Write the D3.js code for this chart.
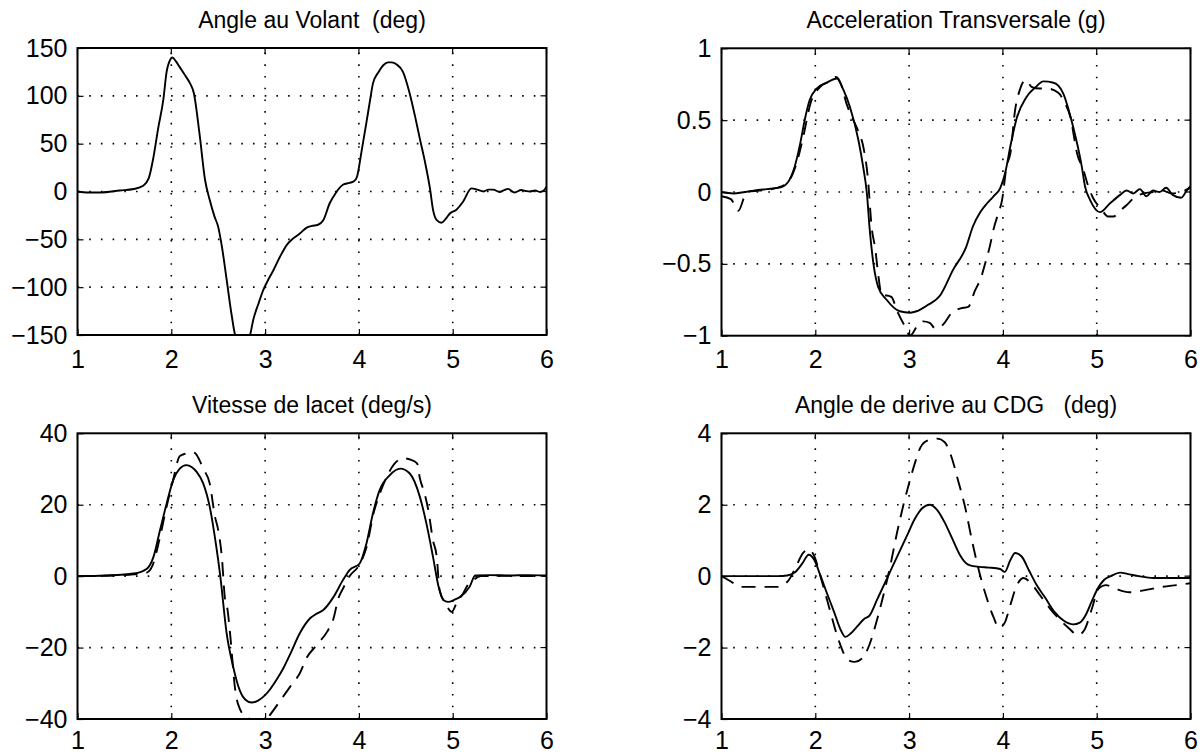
<!DOCTYPE html>
<html><head><meta charset="utf-8">
<script src="https://cdn.jsdelivr.net/npm/d3@7"></script>
<style>
html,body{margin:0;padding:0;background:#fff;}
svg{display:block;font-family:"Liberation Sans",Arial,Helvetica,sans-serif;}
</style></head>
<body><svg id="c" width="1202" height="756"></svg>
<script>
// ---------- DATA ----------
const xTicks = [1, 2, 3, 4, 5, 6];

// Panel 1: Angle au Volant (deg)
const volantTicks = [150, 100, 50, 0, -50, -100, -150];
const volantT = [1.0,1.1,1.25,1.45,1.6,1.7,1.76,1.81,1.86,1.915,1.95,1.99,2.01,2.05,2.09,2.15,2.2,2.24,2.3,2.36,2.41,2.46,2.5,2.54,2.59,2.64,2.68,2.72,2.8,2.84,2.874,2.93,2.98,3.04,3.09,3.16,3.23,3.3,3.37,3.44,3.5,3.56,3.62,3.69,3.75,3.83,3.9,3.95,3.98,4.03,4.08,4.12,4.15,4.21,4.26,4.31,4.35,4.4,4.47,4.54,4.6,4.65,4.7,4.76,4.79,4.83,4.88,4.93,4.97,5.04,5.11,5.2,5.26,5.33,5.38,5.43,5.5,5.55,5.59,5.66,5.73,5.78,5.82,5.88,5.93,5.97,6.0];
const volantV = [0,-1,-1,1,2.6,6,14,36,66,96,125,138,140,136,130,121,113,103,61,12,-9,-26,-37,-58,-92,-127,-150,-158,-160,-150,-134,-117,-103,-91,-82,-68,-56,-49,-44,-38,-36,-35,-30,-12,-2,7,9,11,15.5,43,72,96,113,125,132,135,135,133,125,103,78,55,33,1.6,-19,-30,-32.6,-28,-23,-19,-10.7,3.3,2,0,2,2,-0.5,1.5,2.7,-1,1.5,0.5,0,1,-0.5,1,5];

// Panel 2: Acceleration Transversale (g)
const accTicks = [1, 0.5, 0, -0.5, -1];
const accT = [1.0,1.125,1.25,1.39,1.48,1.62,1.71,1.78,1.84,1.89,1.94,2.015,2.12,2.23,2.3,2.37,2.46,2.51,2.55,2.58,2.62,2.67,2.76,2.9,3.01,3.08,3.19,3.33,3.47,3.61,3.68,3.76,3.83,3.9,3.97,4.03,4.08,4.15,4.25,4.35,4.43,4.54,4.64,4.75,4.84,4.875,4.93,5.035,5.14,5.25,5.32,5.39,5.46,5.53,5.6,5.67,5.74,5.81,5.9,5.96,6.0];
const accV = [0,-0.01,0,0.014,0.02,0.03,0.07,0.176,0.34,0.51,0.64,0.72,0.76,0.79,0.71,0.59,0.36,0.176,-0.01,-0.26,-0.5,-0.66,-0.75,-0.83,-0.84,-0.83,-0.79,-0.72,-0.54,-0.38,-0.24,-0.14,-0.08,-0.03,0.026,0.15,0.32,0.52,0.66,0.73,0.77,0.76,0.69,0.45,0.18,0.04,-0.056,-0.14,-0.08,-0.02,0.01,-0.01,0.02,-0.03,0.01,0,0.03,-0.02,-0.04,0.01,0.04];
const accDashT = [1.0,1.1,1.18,1.27,1.4,1.6,1.72,1.8,1.87,1.95,2.05,2.15,2.22,2.28,2.33,2.37,2.46,2.51,2.56,2.6,2.64,2.67,2.71,2.76,2.81,2.88,2.96,3.01,3.08,3.15,3.22,3.28,3.35,3.47,3.55,3.63,3.7,3.77,3.81,3.86,3.9,3.95,3.99,4.04,4.08,4.13,4.18,4.24,4.31,4.39,4.47,4.59,4.66,4.72,4.79,4.86,4.91,4.96,5.05,5.12,5.18,5.25,5.32,5.4,5.5,5.6,5.7,5.8,5.9,6.0];
const accDash = [-0.03,-0.05,-0.13,0,0.01,0.03,0.08,0.2,0.38,0.62,0.73,0.77,0.8,0.74,0.62,0.55,0.42,0.32,0.1,-0.24,-0.4,-0.57,-0.72,-0.72,-0.73,-0.84,-0.94,-1.0,-0.94,-0.9,-0.91,-0.95,-0.93,-0.83,-0.81,-0.8,-0.69,-0.59,-0.5,-0.38,-0.26,-0.15,-0.06,0.18,0.27,0.57,0.71,0.78,0.73,0.72,0.72,0.69,0.62,0.52,0.27,0.15,0.04,-0.04,-0.12,-0.17,-0.17,-0.13,-0.09,-0.04,-0.01,0,0.01,-0.01,0,0.03];

// Panel 3: Vitesse de lacet (deg/s)
const lacetTicks = [40, 20, 0, -20, -40];
const lacetT = [1.0,1.3,1.6,1.74,1.81,1.88,1.95,2.02,2.09,2.16,2.22,2.27,2.34,2.41,2.48,2.52,2.59,2.66,2.73,2.79,2.857,2.92,2.98,3.05,3.12,3.2,3.27,3.37,3.48,3.55,3.62,3.73,3.83,3.9,4.01,4.08,4.15,4.22,4.33,4.44,4.54,4.65,4.72,4.79,4.85,4.9,4.95,5.02,5.08,5.18,5.24,5.4,5.6,5.8,6.0];
const lacetV = [0,0.2,0.75,2.1,5.4,12.9,20.3,26.9,30.1,31.1,30.5,29.2,26,19.4,8.2,0.5,-16,-25.4,-32,-34.6,-35.4,-34.9,-33.8,-31.8,-29.1,-25.5,-21.7,-16,-11.8,-10.5,-9.5,-5.8,-1.1,1.7,3.6,9.1,17.6,24,28.3,30.1,28.8,22.2,14.7,5.4,-3,-6.7,-7.2,-6.6,-5.8,-3,0.2,0.3,0.2,0.3,0.2];
const lacetDashT = [1.0,1.3,1.6,1.74,1.8,1.88,1.95,2.02,2.09,2.15,2.2,2.25,2.3,2.34,2.41,2.466,2.5,2.54,2.57,2.6,2.63,2.68,2.71,2.8,2.95,3.02,3.09,3.19,3.28,3.37,3.44,3.55,3.66,3.73,3.78,3.83,3.9,4.0,4.08,4.16,4.22,4.3,4.38,4.47,4.55,4.62,4.65,4.7,4.74,4.79,4.83,4.86,4.92,4.99,5.05,5.11,5.16,5.22,5.3,5.5,5.8,6.0];
const lacetDash = [0,0.1,0.5,1,3,11,19.5,27,33.6,34.3,34.8,34.5,32.5,30.1,25.9,16.6,12.9,5,-5.8,-9.5,-17,-31.5,-35.7,-39.5,-40.5,-39.8,-37.5,-33.8,-30.5,-27.2,-23,-19.3,-15.6,-11.8,-6.3,-3.5,0,3,8,18,22.9,28,31.5,33,32.6,31.6,27.4,23.2,18.5,10,5.4,-3.9,-7.5,-10,-7,-4.9,-2.5,-1.1,0,0.1,0,0.1];

// Panel 4: Angle de derive au CDG (deg)
const deriveTicks = [4, 2, 0, -2, -4];
const deriveT = [1.0,1.3,1.6,1.7,1.78,1.86,1.93,1.99,2.05,2.12,2.2,2.27,2.32,2.38,2.45,2.52,2.58,2.66,2.74,2.82,2.9,2.98,3.06,3.14,3.22,3.3,3.38,3.46,3.54,3.6,3.65,3.75,3.85,3.97,4.02,4.08,4.13,4.2,4.28,4.36,4.45,4.55,4.65,4.75,4.82,4.88,4.94,5.0,5.08,5.15,5.25,5.35,5.45,5.6,5.8,6.0];
const deriveV = [0,0,0,0.02,0.1,0.35,0.6,0.45,0.05,-0.45,-1.0,-1.5,-1.7,-1.6,-1.4,-1.2,-1.1,-0.65,-0.2,0.25,0.7,1.15,1.6,1.9,2.0,1.85,1.5,1.05,0.6,0.38,0.3,0.26,0.24,0.2,0.12,0.45,0.65,0.55,0.15,-0.25,-0.6,-1.0,-1.25,-1.35,-1.3,-1.1,-0.75,-0.4,-0.1,0.0,0.1,0.05,0.0,-0.05,-0.05,-0.05];
const deriveDashT = [1.0,1.1,1.2,1.4,1.6,1.72,1.8,1.87,1.93,1.99,2.06,2.15,2.25,2.35,2.42,2.5,2.58,2.65,2.72,2.8,2.87,2.94,3.0,3.06,3.12,3.2,3.3,3.38,3.45,3.52,3.6,3.67,3.74,3.82,3.9,3.96,4.02,4.08,4.15,4.22,4.3,4.4,4.5,4.6,4.7,4.8,4.87,4.95,5.02,5.1,5.2,5.35,5.5,5.7,5.85,6.0];
const deriveDash = [0,-0.15,-0.3,-0.3,-0.3,-0.1,0.3,0.65,0.75,0.55,-0.05,-0.9,-1.8,-2.35,-2.4,-2.3,-1.9,-1.3,-0.6,0.3,1.2,2.0,2.6,3.15,3.6,3.8,3.85,3.75,3.35,2.7,1.9,1.0,0.2,-0.55,-1.15,-1.45,-1.3,-0.8,-0.25,-0.05,-0.2,-0.55,-0.9,-1.2,-1.45,-1.65,-1.5,-0.9,-0.35,-0.25,-0.35,-0.45,-0.4,-0.3,-0.25,-0.2];

// ---------- DRAW ----------
const svg = d3.select("#c");
const panels = [
  {title:"Angle au Volant  (deg)", l:77.5, r:546.5, t:48, b:335, dom:[-150,150], ticks:volantTicks, xpad:15,
   series:[{x:volantT,y:volantV,dash:false}]},
  {title:"Acceleration Transversale (g)", l:721.5, r:1190.5, t:48.3, b:335.7, dom:[-1,1], ticks:accTicks, xpad:15,
   series:[{x:accDashT,y:accDash,dash:true},{x:accT,y:accV,dash:false}]},
  {title:"Vitesse de lacet (deg/s)", l:77.5, r:546.5, t:433.3, b:719, dom:[-40,40], ticks:lacetTicks, xpad:12,
   series:[{x:lacetDashT,y:lacetDash,dash:true},{x:lacetT,y:lacetV,dash:false}]},
  {title:"Angle de derive au CDG   (deg)", l:721.5, r:1190.5, t:433.3, b:719, dom:[-4,4], ticks:deriveTicks, xpad:12,
   series:[{x:deriveDashT,y:deriveDash,dash:true},{x:deriveT,y:deriveV,dash:false}]}
];
const minus = s => s.replace(/^-/, "\u2212");

panels.forEach((p, i) => {
  const x = d3.scaleLinear().domain([1, 6]).range([p.l, p.r]);
  const y = d3.scaleLinear().domain(p.dom).range([p.b, p.t]);
  const g = svg.append("g");
  const cid = "clip" + i;
  svg.append("clipPath").attr("id", cid).append("rect")
    .attr("x", p.l).attr("y", p.t).attr("width", p.r - p.l).attr("height", p.b - p.t);

  // grid
  const grid = g.append("g").attr("stroke", "#000").attr("stroke-width", 1.6)
    .attr("stroke-dasharray", "1.6,10.1");
  xTicks.slice(1, -1).forEach(v => grid.append("line")
    .attr("x1", x(v)).attr("x2", x(v)).attr("y1", p.b).attr("y2", p.t));
  p.ticks.slice(1, -1).forEach(v => grid.append("line")
    .attr("x1", p.l).attr("x2", p.r).attr("y1", y(v)).attr("y2", y(v)));

  const xa = d3.axisBottom(x).tickValues(xTicks).tickSize(-6).tickPadding(p.xpad).tickFormat(d => String(d));
  const ya = d3.axisLeft(y).tickValues(p.ticks).tickSize(-6).tickPadding(10).tickFormat(d => minus(String(d)));
  const gx = g.append("g").attr("transform", `translate(0,${p.b})`).call(xa);
  const gy = g.append("g").attr("transform", `translate(${p.l},0)`).call(ya);
  [gx, gy].forEach(a => {
    a.select(".domain").remove();
    a.selectAll("line").attr("stroke", "#000").attr("stroke-width", 1.2);
    a.selectAll("text").attr("fill", "#000").style("font-size", "25px")
      .style("font-family", '"Liberation Sans",Arial,sans-serif');
  });
  gx.selectAll("text").attr("dy", "0.71em");
  xTicks.forEach(v => g.append("line").attr("x1", x(v)).attr("x2", x(v)).attr("y1", p.t).attr("y2", p.t + 6)
    .attr("stroke", "#000").attr("stroke-width", 1.2));
  p.ticks.forEach(v => g.append("line").attr("x1", p.r).attr("x2", p.r - 6).attr("y1", y(v)).attr("y2", y(v))
    .attr("stroke", "#000").attr("stroke-width", 1.2));

  const line = d3.line().x(d => x(d[0])).y(d => y(d[1])).curve(d3.curveMonotoneX);
  p.series.forEach(s => {
    const pts = s.x.map((t, k) => [t, s.y[k]]);
    g.append("path").attr("clip-path", `url(#${cid})`).attr("d", line(pts))
      .attr("fill", "none").attr("stroke", "#000").attr("stroke-width", 1.9)
      .attr("stroke-linejoin", "round")
      .attr("stroke-dasharray", s.dash ? "14,9" : null);
  });

  g.append("rect").attr("x", p.l).attr("y", p.t).attr("width", p.r - p.l).attr("height", p.b - p.t)
    .attr("fill", "none").attr("stroke", "#000").attr("stroke-width", 2);

  g.append("text").attr("x", (p.l + p.r) / 2).attr("y", p.t - 20).attr("text-anchor", "middle")
    .attr("xml:space", "preserve").style("white-space", "pre")
    .style("font-size", "23px").attr("fill", "#000").text(p.title);
});
</script></body></html>
